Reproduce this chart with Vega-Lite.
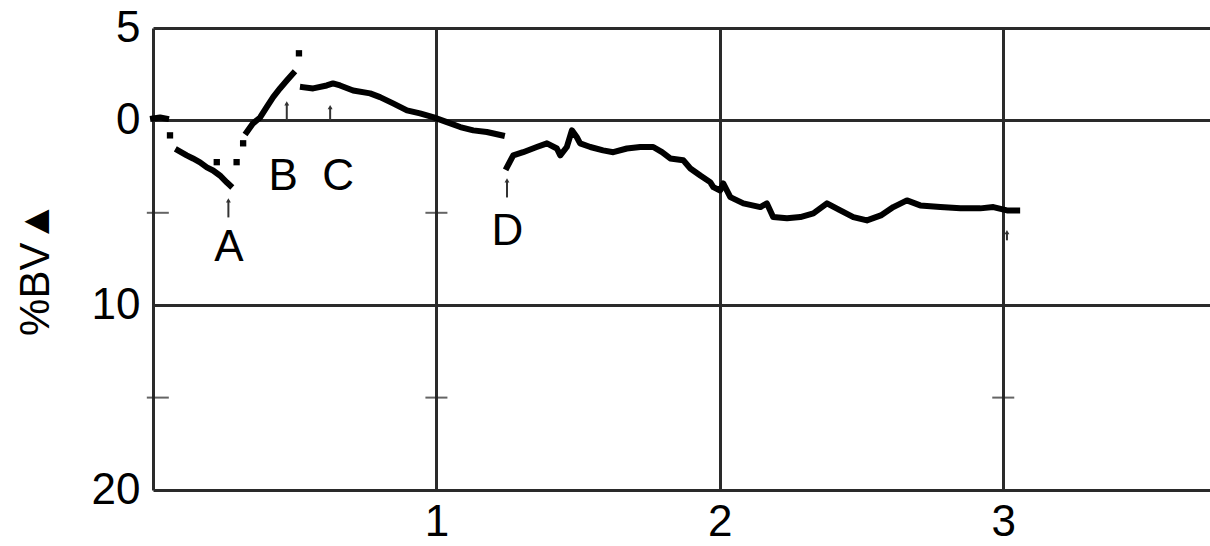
{
  "$schema": "https://vega.github.io/schema/vega-lite/v6.json",
  "autosize": {"type": "none"},
  "padding": {"left": 153, "top": 28, "right": 20, "bottom": 56},
  "width": 1077,
  "height": 462,
  "background": "white",
  "config": {
    "view": {"stroke": null},
    "font": "Liberation Sans"
  },
  "datasets": {
    "curve": [
      {"seg": "s1", "t": 0.0, "v": -0.1},
      {"seg": "s1", "t": 0.025, "v": -0.16},
      {"seg": "s1", "t": 0.046, "v": -0.1},
      {"seg": "s2", "t": 0.088, "v": 1.62},
      {"seg": "s2", "t": 0.119, "v": 1.89},
      {"seg": "s2", "t": 0.141, "v": 2.06},
      {"seg": "s2", "t": 0.166, "v": 2.27},
      {"seg": "s2", "t": 0.19, "v": 2.54},
      {"seg": "s2", "t": 0.212, "v": 2.71},
      {"seg": "s2", "t": 0.236, "v": 2.98},
      {"seg": "s2", "t": 0.26, "v": 3.35},
      {"seg": "s2", "t": 0.272, "v": 3.52},
      {"seg": "s3", "t": 0.331, "v": 0.63},
      {"seg": "s3", "t": 0.353, "v": 0.16},
      {"seg": "s3", "t": 0.378, "v": -0.16},
      {"seg": "s3", "t": 0.401, "v": -0.72},
      {"seg": "s3", "t": 0.424, "v": -1.26},
      {"seg": "s3", "t": 0.448, "v": -1.73},
      {"seg": "s3", "t": 0.472, "v": -2.16},
      {"seg": "s3", "t": 0.494, "v": -2.54},
      {"seg": "s4", "t": 0.529, "v": -1.8},
      {"seg": "s4", "t": 0.565, "v": -1.73},
      {"seg": "s4", "t": 0.613, "v": -1.89},
      {"seg": "s4", "t": 0.635, "v": -2.0},
      {"seg": "s4", "t": 0.66, "v": -1.89},
      {"seg": "s4", "t": 0.706, "v": -1.62},
      {"seg": "s4", "t": 0.766, "v": -1.46},
      {"seg": "s4", "t": 0.801, "v": -1.26},
      {"seg": "s4", "t": 0.847, "v": -0.92},
      {"seg": "s4", "t": 0.896, "v": -0.54},
      {"seg": "s4", "t": 0.942, "v": -0.38},
      {"seg": "s4", "t": 0.988, "v": -0.18},
      {"seg": "s4", "t": 1.037, "v": 0.09},
      {"seg": "s4", "t": 1.084, "v": 0.36},
      {"seg": "s4", "t": 1.13, "v": 0.54},
      {"seg": "s4", "t": 1.178, "v": 0.63},
      {"seg": "s4", "t": 1.231, "v": 0.81},
      {"seg": "s5", "t": 1.249, "v": 2.53},
      {"seg": "s5", "t": 1.271, "v": 1.89},
      {"seg": "s5", "t": 1.306, "v": 1.72},
      {"seg": "s5", "t": 1.354, "v": 1.44},
      {"seg": "s5", "t": 1.39, "v": 1.24},
      {"seg": "s5", "t": 1.425, "v": 1.52},
      {"seg": "s5", "t": 1.437, "v": 1.89},
      {"seg": "s5", "t": 1.46, "v": 1.44},
      {"seg": "s5", "t": 1.478, "v": 0.54},
      {"seg": "s5", "t": 1.495, "v": 0.9},
      {"seg": "s5", "t": 1.507, "v": 1.24},
      {"seg": "s5", "t": 1.543, "v": 1.44},
      {"seg": "s5", "t": 1.588, "v": 1.62},
      {"seg": "s5", "t": 1.624, "v": 1.72},
      {"seg": "s5", "t": 1.672, "v": 1.52},
      {"seg": "s5", "t": 1.719, "v": 1.44},
      {"seg": "s5", "t": 1.765, "v": 1.44},
      {"seg": "s5", "t": 1.796, "v": 1.72},
      {"seg": "s5", "t": 1.825, "v": 2.06},
      {"seg": "s5", "t": 1.871, "v": 2.16},
      {"seg": "s5", "t": 1.896, "v": 2.6},
      {"seg": "s5", "t": 1.931, "v": 2.98},
      {"seg": "s5", "t": 1.966, "v": 3.34},
      {"seg": "s5", "t": 1.977, "v": 3.61},
      {"seg": "s5", "t": 2.001, "v": 3.79},
      {"seg": "s5", "t": 2.012, "v": 3.41},
      {"seg": "s5", "t": 2.037, "v": 4.15},
      {"seg": "s5", "t": 2.083, "v": 4.49},
      {"seg": "s5", "t": 2.143, "v": 4.69},
      {"seg": "s5", "t": 2.166, "v": 4.49},
      {"seg": "s5", "t": 2.188, "v": 5.23},
      {"seg": "s5", "t": 2.237, "v": 5.3},
      {"seg": "s5", "t": 2.284, "v": 5.23},
      {"seg": "s5", "t": 2.33, "v": 5.03},
      {"seg": "s5", "t": 2.378, "v": 4.49},
      {"seg": "s5", "t": 2.425, "v": 4.87},
      {"seg": "s5", "t": 2.471, "v": 5.23},
      {"seg": "s5", "t": 2.519, "v": 5.41},
      {"seg": "s5", "t": 2.568, "v": 5.14},
      {"seg": "s5", "t": 2.612, "v": 4.69},
      {"seg": "s5", "t": 2.66, "v": 4.33},
      {"seg": "s5", "t": 2.707, "v": 4.6},
      {"seg": "s5", "t": 2.778, "v": 4.69},
      {"seg": "s5", "t": 2.849, "v": 4.76},
      {"seg": "s5", "t": 2.919, "v": 4.76},
      {"seg": "s5", "t": 2.965, "v": 4.69},
      {"seg": "s5", "t": 3.013, "v": 4.87},
      {"seg": "s5", "t": 3.049, "v": 4.87}
    ],
    "dots": [
      {"t": 0.06, "v": 0.81},
      {"t": 0.225, "v": 2.26},
      {"t": 0.295, "v": 2.26},
      {"t": 0.318, "v": 1.24},
      {"t": 0.515, "v": -3.63}
    ],
    "arrows": [
      {"t": 0.266, "v": 5.25, "tip": 4.33},
      {"t": 0.472, "v": 0.0, "tip": -0.92},
      {"t": 0.625, "v": 0.0, "tip": -0.72},
      {"t": 1.249, "v": 4.17, "tip": 3.25},
      {"t": 3.013, "v": 6.49, "tip": 6.04}
    ],
    "labels": [
      {"t": 0.268, "v": 6.93, "name": "A"},
      {"t": 0.459, "v": 3.08, "name": "B"},
      {"t": 0.653, "v": 3.08, "name": "C"},
      {"t": 1.25, "v": 6.04, "name": "D"}
    ],
    "crosses": [
      {"t": 0.017, "v": 5},
      {"t": 0.017, "v": 15},
      {"t": 1, "v": 5},
      {"t": 1, "v": 15},
      {"t": 3, "v": 15}
    ]
  },
  "layer": [
    {
      "data": {"name": "curve"},
      "mark": {"type": "line", "color": "black", "strokeWidth": 6, "strokeCap": "square", "strokeJoin": "round"},
      "encoding": {
        "x": {
          "field": "t", "type": "quantitative",
          "scale": {"domain": [0, 3.8], "nice": false, "zero": false},
          "axis": {
            "values": [0, 1, 2, 3],
            "format": "d",
            "labelExpr": "datum.value == 0 ? '' : datum.label",
            "grid": true, "gridColor": "#2a2a2a", "gridWidth": 3, "gridOpacity": 1,
            "domain": false, "ticks": false,
            "labelFontSize": 44, "labelColor": "black", "labelPadding": 10,
            "labelFont": "Liberation Sans",
            "title": null
          }
        },
        "y": {
          "field": "v", "type": "quantitative",
          "scale": {"domain": [-5, 20], "reverse": true, "nice": false, "zero": false},
          "axis": {
            "values": [-5, 0, 10, 20],
            "labelExpr": "format(abs(datum.value), 'd')",
            "grid": true, "gridColor": "#2a2a2a", "gridWidth": 3, "gridOpacity": 1,
            "domain": false, "ticks": false,
            "labelFontSize": 44, "labelColor": "black", "labelPadding": 13,
            "labelFont": "Liberation Sans", "labelBaseline": "middle",
            "title": "%BV▲",
            "titleFont": "Liberation Sans", "titleFontSize": 42, "titleFontWeight": "normal",
            "titleColor": "black",
            "titleAngle": -90, "titleAlign": "center", "titleBaseline": "middle",
            "titleX": -118, "titleY": 240
          }
        },
        "detail": {"field": "seg", "type": "nominal"}
      }
    },
    {
      "data": {"name": "dots"},
      "mark": {"type": "square", "color": "black", "filled": true, "opacity": 1, "size": 40},
      "encoding": {
        "x": {"field": "t", "type": "quantitative"},
        "y": {"field": "v", "type": "quantitative"}
      }
    },
    {
      "data": {"name": "arrows"},
      "mark": {"type": "rule", "color": "#333", "strokeWidth": 2},
      "encoding": {
        "x": {"field": "t", "type": "quantitative"},
        "y": {"field": "v", "type": "quantitative"},
        "y2": {"field": "tip"}
      }
    },
    {
      "data": {"name": "arrows"},
      "mark": {"type": "point", "shape": "triangle-up", "color": "#333", "filled": true, "opacity": 1, "size": 24},
      "encoding": {
        "x": {"field": "t", "type": "quantitative"},
        "y": {"field": "tip", "type": "quantitative"}
      }
    },
    {
      "data": {"name": "labels"},
      "mark": {"type": "text", "font": "Liberation Sans", "fontSize": 44, "color": "black", "align": "center", "baseline": "middle"},
      "encoding": {
        "x": {"field": "t", "type": "quantitative"},
        "y": {"field": "v", "type": "quantitative"},
        "text": {"field": "name"}
      }
    },
    {
      "data": {"name": "crosses"},
      "mark": {"type": "tick", "orient": "horizontal", "color": "#222", "thickness": 2, "size": 22},
      "encoding": {
        "x": {"field": "t", "type": "quantitative"},
        "y": {"field": "v", "type": "quantitative"}
      }
    }
  ]
}
